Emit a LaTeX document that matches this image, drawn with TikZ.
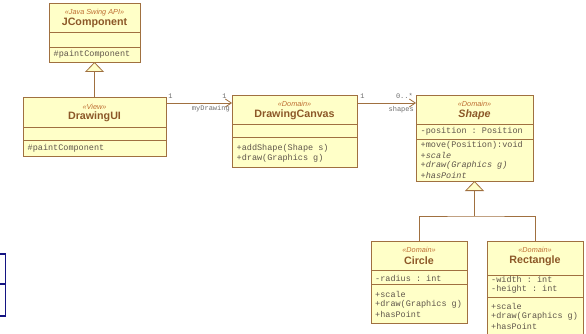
\documentclass[tikz,border=0pt]{standalone}
\usepackage{fontspec}
\setmainfont{Liberation Sans}
\setsansfont{Liberation Sans}
\setmonofont{Liberation Mono}
\usetikzlibrary{arrows.meta,calc}
\definecolor{umlfill}{RGB}{255,255,200}
\definecolor{umlborder}{RGB}{160,112,64}
\definecolor{titlecol}{RGB}{140,88,40}
\definecolor{stcol}{RGB}{190,110,50}
\definecolor{memcol}{RGB}{95,85,75}
\definecolor{rolecol}{RGB}{110,110,110}
\definecolor{bluecol}{RGB}{20,20,130}
\tikzset{
  box/.style={draw=umlborder, fill=umlfill, line width=0.8pt, anchor=north west, inner sep=0pt, outer sep=0pt},
  sepline/.style={draw=umlborder, line width=0.8pt},
  stereo/.style={font=\sffamily\itshape\fontsize{7.3}{8}\selectfont, text=stcol, inner sep=0pt},
  ctitle/.style={font=\sffamily\bfseries\fontsize{10.7}{12}\selectfont, text=titlecol, inner sep=0pt},
  member/.style={font=\ttfamily\fontsize{8.5}{10}\selectfont, text=memcol, anchor=west, inner sep=0pt},
  role/.style={font=\ttfamily\fontsize{7}{8}\selectfont, text=rolecol, inner sep=0pt},
  assoc/.style={draw=umlborder, line width=0.8pt, -{Straight Barb[length=6pt,width=8pt]}},
  gen/.style={draw=umlborder, line width=0.8pt, -{Triangle[length=10pt,width=19pt,fill=umlfill]}},
  genline/.style={draw=umlborder, line width=0.8pt}
}
\begin{document}
\begin{tikzpicture}[x=1pt,y=-1pt]
\clip (0,0) rectangle (586,334);
\fill[white] (0,0) rectangle (586,334);

% JComponent
\node[box, minimum width=91pt, minimum height=59pt] (jc) at (49,3) {};
\draw[sepline] (49,32) -- (140,32);
\draw[sepline] (49,47) -- (140,47);
\node[stereo] (jcst) at (94.5,12.5) {«Java Swing API»};
\node[ctitle] (jct) at (94.5,23) {JComponent};
\node[member] (jcm1) at (53.5,54) {\#paintComponent};

% DrawingUI
\node[box, minimum width=143pt, minimum height=59pt] (ui) at (23,97) {};
\draw[sepline] (23,127) -- (166,127);
\draw[sepline] (23,140) -- (166,140);
\node[stereo] (uist) at (94.5,106.5) {«View»};
\node[ctitle] (uit) at (94.5,117) {DrawingUI};
\node[member] (uim1) at (27.5,148) {\#paintComponent};

% DrawingCanvas
\node[box, minimum width=125pt, minimum height=72pt] (canvas) at (232,95) {};
\draw[sepline] (232,124) -- (357,124);
\draw[sepline] (232,137) -- (357,137);
\node[stereo] (cst) at (294.5,104) {«Domain»};
\node[ctitle] (ct) at (294.5,114.5) {DrawingCanvas};
\node[member] (cm1) at (236.5,148) {+addShape(Shape s)};
\node[member] (cm2) at (236.5,158) {+draw(Graphics g)};

% Shape
\node[box, minimum width=117pt, minimum height=86pt] (shape) at (416,95) {};
\draw[sepline] (416,124) -- (533,124);
\draw[sepline] (416,139) -- (533,139);
\node[stereo] (sst) at (474.5,104) {«Domain»};
\node[ctitle, font=\sffamily\bfseries\itshape\fontsize{10.7}{12}\selectfont] (st) at (474.5,114.5) {Shape};
\node[member] (sa1) at (420.5,131.5) {-position : Position};
\node[member] (sm1) at (420.5,145.5) {+move(Position):void};
\node[member, font=\ttfamily\itshape\fontsize{8.5}{10}\selectfont] (sm2) at (420.5,155.5) {+scale};
\node[member, font=\ttfamily\itshape\fontsize{8.5}{10}\selectfont] (sm3) at (420.5,165.5) {+draw(Graphics g)};
\node[member, font=\ttfamily\itshape\fontsize{8.5}{10}\selectfont] (sm4) at (420.5,175) {+hasPoint};

% Circle
\node[box, minimum width=96pt, minimum height=82pt] (circ) at (371,241) {};
\draw[sepline] (371,270) -- (467,270);
\draw[sepline] (371,284) -- (467,284);
\node[stereo] (ci1) at (419,250) {«Domain»};
\node[ctitle] (ci2) at (419,260.5) {Circle};
\node[member] (ca1) at (375,278) {-radius : int};
\node[member] (cim1) at (375,294) {+scale};
\node[member] (cim2) at (375,304) {+draw(Graphics g)};
\node[member] (cim3) at (375,314) {+hasPoint};

% Rectangle
\node[box, minimum width=96pt, minimum height=97pt] (rect) at (487,241) {};
\draw[sepline] (487,275) -- (583,275);
\draw[sepline] (487,297) -- (583,297);
\node[stereo] (re1) at (535,250) {«Domain»};
\node[ctitle] (re2) at (535,260.5) {Rectangle};
\node[member] (ra1) at (491,279.5) {-width : int};
\node[member] (ra2) at (491,289.5) {-height : int};
\node[member] (rm1) at (491,306.5) {+scale};
\node[member] (rm2) at (491,316) {+draw(Graphics g)};
\node[member] (rm3) at (491,326) {+hasPoint};

% Generalisations
\draw[gen] (ui.north) -- (jc.south);
\coordinate (gj) at (474.5,216);
\draw[genline] (circ.north) |- (gj) -| (rect.north);
\draw[gen] (gj) -- (shape.south);

% Associations
\coordinate (a1) at ([yshift=-6pt]ui.north east);
\draw[assoc] (a1) -- (a1 -| canvas.west);
\coordinate (a2) at ([yshift=-8pt]canvas.north east);
\draw[assoc] (a2) -- (a2 -| shape.west);
\node[role] (r1) at (170.5,96) {1};
\node[role] (r2) at (224.5,96) {1};
\node[role, anchor=east] (r3) at (230,109) {myDrawing};
\node[role] (r4) at (362.5,96) {1};
\node[role, anchor=east] (r5) at (413,96) {0..*};
\node[role, anchor=east] (r6) at (414,110) {shapes};

% partial blue box at left edge
\node[draw=bluecol, line width=1.5pt, anchor=north east, minimum width=16pt, minimum height=62pt, inner sep=0pt] (blue) at (6,253) {};
\draw[draw=bluecol, line width=1.5pt] (blue.west |- 0,284) -- (blue.east |- 0,284);
\end{tikzpicture}
\end{document}
